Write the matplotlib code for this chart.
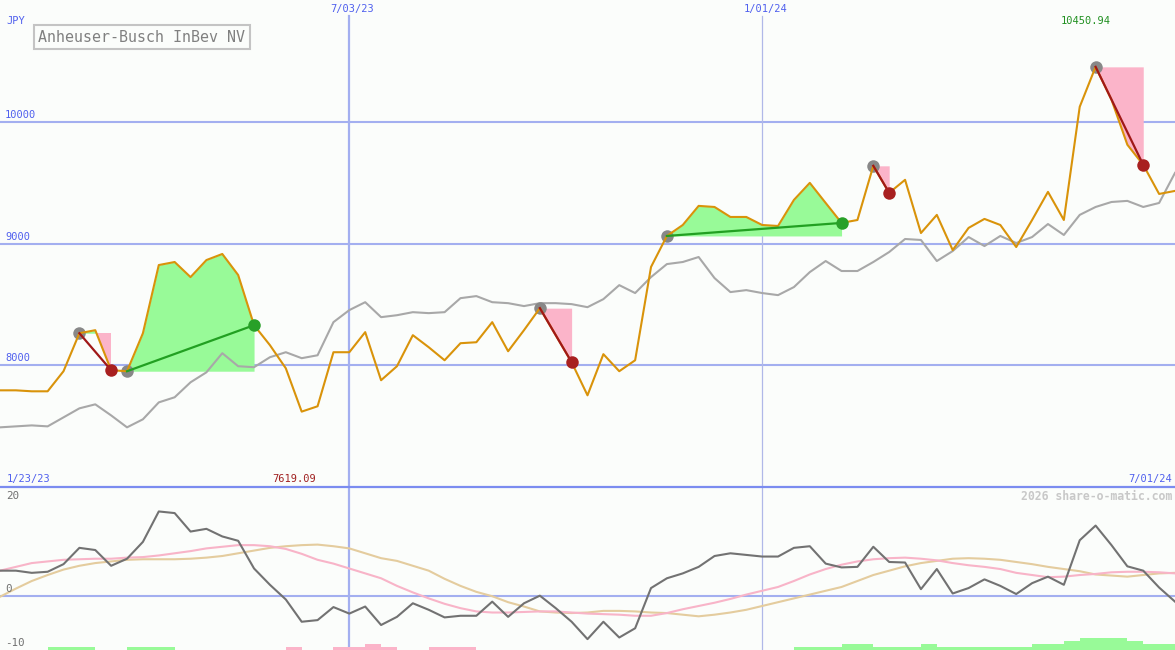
import numpy as np
import pandas as pd
import matplotlib
matplotlib.use('Agg')
import matplotlib.pyplot as plt
import matplotlib.dates as mdates
from matplotlib.lines import Line2D

# 周线数据 (weekly closes), 1/30/23 .. 7/01/24
dates = pd.date_range('2023-01-30', periods=75, freq='7D')

price = np.array([
    7794, 7794, 7786, 7786, 7951, 8263, 8288, 7959, 7951, 8263,
    8823, 8848, 8724, 8864, 8914, 8741, 8329, 8165, 7975, 7619.09,
    7663, 8107, 8107, 8272, 7877, 7992, 8247, 8148, 8041, 8181,
    8189, 8354, 8115, 8288, 8469, 8247, 8025, 7753, 8091, 7951,
    8041, 8807, 9062, 9152, 9309, 9300, 9218, 9218, 9152, 9144,
    9358, 9498, 9333, 9169, 9193, 9638, 9416, 9523, 9086, 9235,
    8946, 9128, 9202, 9152, 8971, 9193, 9424, 9193, 10123, 10450.94,
    10181, 9811, 9646, 9407, 9432])

avg_line = np.array([
    7490, 7498, 7506, 7498, 7572, 7646, 7679, 7588, 7490, 7556,
    7695, 7737, 7860, 7942, 8099, 7992, 7984, 8066, 8107, 8058,
    8082, 8354, 8453, 8518, 8395, 8411, 8436, 8428, 8436, 8551,
    8568, 8518, 8510, 8486, 8510, 8510, 8502, 8477, 8543, 8658,
    8593, 8724, 8831, 8848, 8889, 8716, 8601, 8617, 8593, 8576,
    8642, 8765, 8856, 8774, 8774, 8848, 8930, 9037, 9029, 8856,
    8938, 9053, 8979, 9062, 9004, 9053, 9160, 9070, 9235, 9300,
    9341, 9350, 9300, 9333, 9580])

momentum = np.array([
    4.6, 4.6, 4.2, 4.4, 5.8, 8.8, 8.4, 5.5, 6.8, 9.9,
    15.5, 15.2, 11.8, 12.3, 10.9, 10.1, 5.0, 2.0, -0.7, -4.8,
    -4.5, -2.1, -3.3, -2.0, -5.4, -3.9, -1.4, -2.6, -4.0, -3.7,
    -3.7, -1.1, -3.9, -1.4, 0.0, -2.3, -4.8, -8.0, -4.8, -7.7,
    -6.0, 1.4, 3.2, 4.1, 5.3, 7.3, 7.8, 7.5, 7.2, 7.2,
    8.8, 9.1, 5.9, 5.2, 5.3, 9.0, 6.2, 6.1, 1.2, 4.9,
    0.4, 1.4, 3.0, 1.8, 0.3, 2.3, 3.5, 2.0, 10.2, 12.9,
    9.3, 5.4, 4.6, 1.5, -1.1])

signal_fast = np.array([
    4.6, 5.3, 6.0, 6.3, 6.6, 6.7, 6.8, 6.8, 7.0, 7.1,
    7.4, 7.8, 8.2, 8.7, 9.0, 9.3, 9.3, 9.1, 8.6, 7.7,
    6.6, 5.9, 5.0, 4.1, 3.2, 1.8, 0.6, -0.5, -1.5, -2.3,
    -2.9, -3.1, -3.1, -3.0, -2.9, -2.9, -3.1, -3.3, -3.4, -3.5,
    -3.7, -3.7, -3.2, -2.5, -1.9, -1.3, -0.6, 0.2, 0.9, 1.6,
    2.7, 3.9, 4.9, 5.7, 6.3, 6.7, 6.9, 7.0, 6.8, 6.5,
    6.0, 5.6, 5.3, 4.9, 4.2, 3.8, 3.4, 3.5, 3.8, 4.0,
    4.3, 4.4, 4.4, 4.3, 4.1])

signal_slow = np.array([
    -0.2, 1.3, 2.7, 3.8, 4.8, 5.5, 6.0, 6.3, 6.6, 6.7,
    6.7, 6.7, 6.8, 7.0, 7.3, 7.8, 8.3, 8.8, 9.1, 9.3,
    9.4, 9.1, 8.7, 7.8, 6.9, 6.4, 5.5, 4.6, 3.1, 1.8,
    0.7, -0.1, -1.2, -2.0, -2.9, -3.1, -3.2, -3.1, -2.8, -2.8,
    -2.9, -3.1, -3.2, -3.5, -3.8, -3.5, -3.1, -2.6, -1.9, -1.2,
    -0.5, 0.2, 0.9, 1.6, 2.7, 3.8, 4.6, 5.4, 6.0, 6.4,
    6.8, 6.9, 6.8, 6.6, 6.2, 5.8, 5.3, 4.9, 4.5, 3.9,
    3.7, 3.5, 3.8, 4.1, 4.2])

# 底部信号柱 (+ 绿, - 粉)
signal_bars = np.array([
    0, 0, 0, 0.55, 0.55, 0.55, 0, 0, 0.55, 0.55,
    0.55, 0, 0, 0, 0, 0, 0, 0, -0.55, 0,
    0, -0.55, -0.55, -1.1, -0.55, 0, 0, -0.55, -0.55, -0.55,
    0, 0, 0, 0, 0, 0, 0, 0, 0, 0,
    0, 0, 0, 0, 0, 0, 0, 0, 0, 0,
    0.55, 0.55, 0.55, 1.1, 1.1, 0.55, 0.55, 0.55, 1.1, 0.55,
    0.55, 0.55, 0.55, 0.55, 0.55, 1.1, 1.1, 1.65, 2.2, 2.2,
    2.2, 1.65, 1.1, 1.1, 0])

# 交易: 买入/卖出 的周索引
entries = [5, 8, 34, 42, 55, 69]
exits = [7, 16, 36, 53, 56, 72]

bg = '#fbfdfb'
grid_c = '#a3aff0'
text_c = '#5060ee'
font = 'DejaVu Sans Mono'

fig = plt.figure(figsize=(11.75, 6.5), dpi=100, facecolor=bg)
ax = fig.add_axes([0, 163 / 650, 1, 487 / 650])
ax2 = fig.add_axes([0, 0, 1, 163 / 650])
for a in (ax, ax2):
    a.set_axis_off()
    a.set_xlim(dates[0], dates[-1])
ax.set_ylim(7000, 11000)
ax2.set_ylim(-10, 20)

# 网格线
for v in [8000, 9000, 10000]:
    ax.axhline(v, color=grid_c, lw=1.5, zorder=1)
ax2.axhline(0, color=grid_c, lw=1.5, zorder=1)
v1 = pd.Timestamp('2023-07-03')
v2 = pd.Timestamp('2024-01-01')
ax.axvline(v1, ymax=1 - 16 / 487, color=grid_c, lw=1.6, zorder=1)
ax.axvline(v2, ymax=1 - 16 / 487, color='#b0b8e8', lw=0.9, zorder=1)
ax2.axvline(v1, color=grid_c, lw=1.6, zorder=1)
ax2.axvline(v2, color='#b0b8e8', lw=0.9, zorder=1)
fig.add_artist(Line2D([0, 1], [163 / 650, 163 / 650], color='#7b8cf0', lw=1.6))

# 价格和均线
ax.plot(dates, avg_line, color='#a8a8a8', lw=1.5, zorder=2.5)
ax.plot(dates, price, color='#d9930a', lw=1.5, zorder=3)

# 交易区域
for e, x in zip(entries, exits):
    d = dates[e:x + 1]
    p = price[e:x + 1]
    ax.fill_between(d, price[e], p, where=p >= price[e], interpolate=True,
                    color='#98fa98', lw=0, zorder=2)
    ax.fill_between(d, price[e], p, where=p <= price[e], interpolate=True,
                    color='#fbb4c9', lw=0, zorder=2)
    win = price[x] > price[e]
    ax.plot([dates[e], dates[x]], [price[e], price[x]],
            color='#22a022' if win else '#a01818', lw=1.6, zorder=4)
    ax.plot(dates[e], price[e], 'o', color='#888888', ms=9, mew=0, zorder=2.8)
    ax.plot(dates[x], price[x], 'o', color='#28a028' if win else '#a82020',
            ms=9, mew=0, zorder=5)

# 底部指标
ax2.plot(dates, signal_slow, color='#e4cc9e', lw=1.5, zorder=2)
ax2.plot(dates, signal_fast, color='#f8b4c8', lw=1.5, zorder=2.2)
ax2.plot(dates, momentum, color='#727272', lw=1.5, zorder=3)
bar_cols = ['#98fa98' if b > 0 else '#fbb4c9' for b in signal_bars]
ax2.bar(dates, np.abs(signal_bars), width=7, bottom=-10, align='edge',
        color=bar_cols, lw=0, zorder=1.5)


def label(a, x, y, s, dx=0, dy=0, xt=None, **kw):
    if isinstance(x, pd.Timestamp):
        x = mdates.date2num(x)
    a.annotate(s, (x, y), xycoords=xt if xt is not None else 'data',
               xytext=(dx, dy), textcoords='offset pixels',
               family=font, **kw)


# 纵轴标签
for v in [8000, 9000, 10000]:
    label(ax, 0, v, str(v), 5, 2, xt=ax.get_yaxis_transform(),
          fontsize=7.5, color=text_c, va='bottom')
label(ax2, 0, 20, '20', 6, -4, xt=ax2.get_yaxis_transform(),
      fontsize=7.8, color='#707070', va='top')
label(ax2, 0, 0, '0', 5, 2, xt=ax2.get_yaxis_transform(),
      fontsize=7.8, color='#707070', va='bottom')
label(ax2, 0, -10, '-10', 5, 2, xt=ax2.get_yaxis_transform(),
      fontsize=7.8, color='#707070', va='bottom')

# 日期标签
for d, s in [(v1, '7/03/23'), (v2, '1/01/24')]:
    label(ax, d, 1, s, 3, -9, xt=ax.get_xaxis_transform(),
          fontsize=7.5, color=text_c, ha='center', va='center')
label(ax, 0, 0, '1/23/23', 7, 8, xt='axes fraction',
      fontsize=7.5, color=text_c, ha='left', va='center')
label(ax, 1, 0, '7/01/24', -3, 8, xt='axes fraction',
      fontsize=7.5, color=text_c, ha='right', va='center')

imax = int(np.argmax(price))
imin = int(np.argmin(price))
label(ax, dates[imax], 1, f'{price[imax]:.2f}', -10, -21,
      xt=ax.get_xaxis_transform(), fontsize=7.5, color='#209020',
      ha='center', va='center')
label(ax, dates[imin], 0, f'{price[imin]:.2f}', -8, 8,
      xt=ax.get_xaxis_transform(), fontsize=7.5, color='#a02020',
      ha='center', va='center')

fig.text(6 / 1175, 1 - 21 / 650, 'JPY', family=font, fontsize=7.5,
         color=text_c, ha='left', va='center')
fig.text(38 / 1175, 1 - 37 / 650, 'Anheuser-Busch InBev NV', family=font,
         fontsize=10.8, color='#808080', ha='left', va='center',
         bbox=dict(boxstyle='square,pad=0.3', fc=bg, ec='#c4c4c4', lw=1.5))
fig.text(1172 / 1175, 1 - 496 / 650, '2026 share-o-matic.com', family=font,
         fontsize=8.3, fontweight='bold', color='#c8c8c8',
         ha='right', va='center')

fig.savefig('out.png', dpi=100, facecolor=bg)
